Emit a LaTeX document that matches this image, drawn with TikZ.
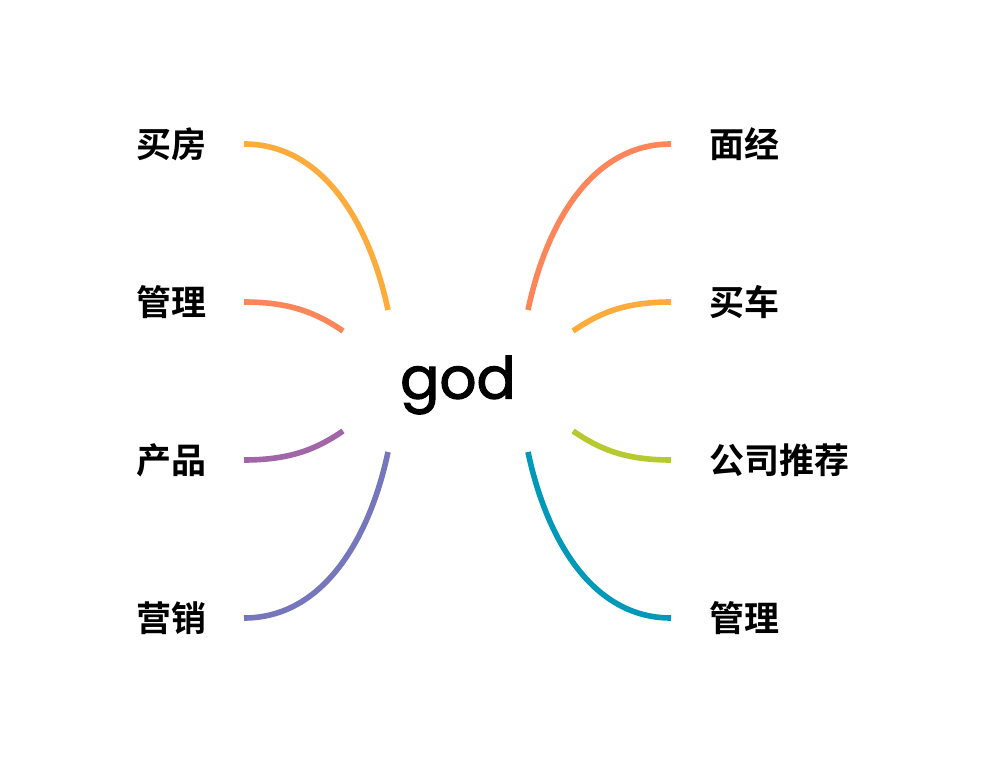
\documentclass[tikz,border=0pt]{standalone}
\usepackage{fontspec}
\setmainfont{Poppins}
\newfontfamily\godfont[FakeBold=2]{Poppins}
\newfontfamily\cjk[BoldFont={Noto Sans CJK SC Bold}]{Noto Sans CJK SC}
\usetikzlibrary{positioning}

\definecolor{cOrange}{HTML}{FDAB3A}
\definecolor{cCoral}{HTML}{FD855A}
\definecolor{cPurple}{HTML}{A066A8}
\definecolor{cViolet}{HTML}{7676BD}
\definecolor{cGreen}{HTML}{B6C930}
\definecolor{cTeal}{HTML}{0099B9}

\tikzset{
    topic/.style={font=\cjk\bfseries\fontsize{35}{40}\selectfont, inner sep=0pt},
    branch/.style={line width=5.6pt}
}

\begin{document}
\begin{tikzpicture}[x=1pt,y=-1pt]
    \useasboundingbox (0,0) rectangle (988,762);

    % Central topic
    \node[font=\godfont\fontsize{58}{64}\selectfont, inner sep=0pt] (god) at (458,385) {god};

    % Left topics
    \node[topic, anchor=east] (fang) at (207,144) {买房};
    \node[topic, anchor=east] (guanL) at (207,302) {管理};
    \node[topic, anchor=east] (chan) at (207,460) {产品};
    \node[topic, anchor=east] (ying) at (207,618) {营销};

    % Right topics
    \node[topic, anchor=west] (mian) at (709,144) {面经};
    \node[topic, anchor=west] (che) at (709,302) {买车};
    \node[topic, anchor=west] (gong) at (709,460) {公司推荐};
    \node[topic, anchor=west] (guanR) at (709,618) {管理};

    % Branch ends near the centre
    \coordinate (lt) at (388,310);
    \coordinate (lu) at (343,331);
    \coordinate (ld) at (343,431);
    \coordinate (lb) at (388,452);
    \coordinate (rt) at (528,310);
    \coordinate (ru) at (573,331);
    \coordinate (rd) at (573,431);
    \coordinate (rb) at (528,452);

    % Left branches
    \draw[branch, cOrange] ([xshift=37pt]fang.east) .. controls +(80,0) and (370,225) .. (lt);
    \draw[branch, cCoral] ([xshift=37pt]guanL.east) .. controls +(48,0) and (318,314) .. (lu);
    \draw[branch, cPurple] ([xshift=37pt]chan.east) .. controls +(48,0) and (318,448) .. (ld);
    \draw[branch, cViolet] ([xshift=37pt]ying.east) .. controls +(80,0) and (370,537) .. (lb);

    % Right branches
    \draw[branch, cCoral] ([xshift=-38pt]mian.west) .. controls +(-80,0) and (546,225) .. (rt);
    \draw[branch, cOrange] ([xshift=-38pt]che.west) .. controls +(-48,0) and (598,314) .. (ru);
    \draw[branch, cGreen] ([xshift=-38pt]gong.west) .. controls +(-48,0) and (598,448) .. (rd);
    \draw[branch, cTeal] ([xshift=-38pt]guanR.west) .. controls +(-80,0) and (546,537) .. (rb);
\end{tikzpicture}
\end{document}
